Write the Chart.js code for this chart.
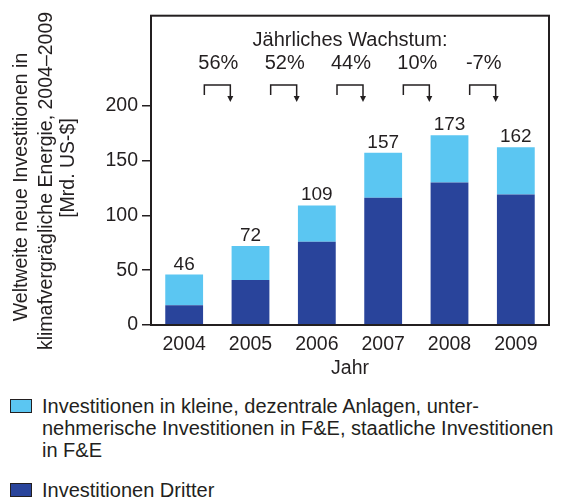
<!DOCTYPE html>
<html lang="de">
<head>
<meta charset="utf-8">
<script src="https://cdn.jsdelivr.net/npm/chart.js@4.4.1/dist/chart.umd.min.js"></script>
<style>
    body { margin: 0; background: #fff; font-family: "Liberation Sans", Arial, sans-serif; color: #231f20; }
    #wrap { position: relative; width: 563px; height: 498px; overflow: hidden; }
    #legend { position: absolute; left: 10px; top: 395px; width: 553px; }
    .item { display: flex; align-items: flex-start; font-size: 20px; line-height: 22px; white-space: nowrap; }
    .box { flex: none; width: 20px; height: 12px; border: 1px solid #231f20; margin: 4px 10px 0 0; }
</style>
</head>
<body>
<div id="wrap">
    <canvas id="chart" width="563" height="385"></canvas>
    <div id="legend"></div>
</div>
<script>
const years = ['2004', '2005', '2006', '2007', '2008', '2009'];
// Investitionen Dritter (dark, bottom of the stack)
const thirdParty = [18, 41, 76, 116, 130, 119];
// small plants, corporate and public R&D (light, top of the stack)
const smallAndRnd = [28, 31, 33, 41, 43, 43];
const growth = ['56%', '52%', '44%', '10%', '-7%'];
const yTicks = [0, 50, 100, 150, 200];
const yTitle = ['Weltweite neue Investitionen in', 'klimafvergrägliche Energie, 2004–2009', '[Mrd. US-$]'];
const legendLines = [
    ['Investitionen in kleine, dezentrale Anlagen, unter-', 'nehmerische Investitionen in F&E, staatliche Investitionen', 'in F&E'],
    ['Investitionen Dritter']
];

const LIGHT = '#5bc6f2';
const DARK = '#29449b';
const INK = '#231f20';
const FONT = '"Liberation Sans", Arial, sans-serif';

// texts drawn on top of the chart: totals, growth brackets, axis title, frame
const extras = {
    id: 'extras',
    afterDraw(chart) {
        const ctx = chart.ctx;
        const x = chart.scales.x;
        const area = chart.chartArea;
        ctx.save();
        ctx.fillStyle = INK;
        ctx.strokeStyle = INK;

        // frame around the plot
        ctx.lineWidth = 2;
        ctx.strokeRect(area.left, area.top, area.right - area.left, area.bottom - area.top);

        // totals above each stack
        ctx.font = '19px ' + FONT;
        ctx.textAlign = 'center';
        ctx.textBaseline = 'alphabetic';
        const top = chart.getDatasetMeta(1);
        top.data.forEach((bar, i) => {
            const total = thirdParty[i] + smallAndRnd[i];
            ctx.fillText(String(total), bar.x, bar.y - 5);
        });

        // growth header and brackets
        ctx.font = '20px ' + FONT;
        ctx.textBaseline = 'middle';
        ctx.fillText('Jährliches Wachstum:', (area.left + area.right) / 2, 40);
        ctx.lineWidth = 1.5;
        growth.forEach((g, i) => {
            const mid = (x.getPixelForValue(i) + x.getPixelForValue(i + 1)) / 2;
            ctx.fillText(g, mid + 1, 63);
            const l = mid - 13, r = mid + 13;
            ctx.beginPath();
            ctx.moveTo(l, 95);
            ctx.lineTo(l, 85);
            ctx.lineTo(r, 85);
            ctx.lineTo(r, 97);
            ctx.stroke();
            ctx.beginPath();
            ctx.moveTo(r - 3, 96);
            ctx.lineTo(r + 3, 96);
            ctx.lineTo(r, 102);
            ctx.closePath();
            ctx.fill();
        });

        // rotated y title
        ctx.font = '19.5px ' + FONT;
        const cols = [[22, 187], [47, 181], [69, 168]];
        yTitle.forEach((line, i) => {
            ctx.save();
            ctx.translate(cols[i][0], cols[i][1]);
            ctx.rotate(-Math.PI / 2);
            ctx.fillText(line, 0, 0);
            ctx.restore();
        });
        ctx.restore();
    }
};

const chart = new Chart(document.getElementById('chart'), {
    type: 'bar',
    data: {
        labels: years,
        datasets: [
            { label: 'Investitionen Dritter', data: thirdParty, backgroundColor: DARK },
            { label: 'Investitionen in kleine, dezentrale Anlagen, unternehmerische Investitionen in F&E, staatliche Investitionen in F&E', data: smallAndRnd, backgroundColor: LIGHT }
        ]
    },
    options: {
        responsive: false,
        animation: false,
        layout: { padding: { top: 15, right: 14, left: 0, bottom: 0 } },
        datasets: { bar: { categoryPercentage: 1, barPercentage: 0.57 } },
        plugins: { legend: { display: false }, tooltip: { enabled: false } },
        scales: {
            x: {
                stacked: true,
                grid: { display: false, drawTicks: false },
                border: { display: false },
                ticks: { color: INK, font: { family: FONT, size: 19.5 }, padding: 8 },
                title: { display: true, text: 'Jahr', color: INK, font: { family: FONT, size: 19.5 }, padding: { top: 0, bottom: 5 } },
                afterFit(s) { s.height = 60; }
            },
            y: {
                stacked: true,
                min: 0,
                max: 282,
                border: { display: false },
                grid: { drawOnChartArea: false, drawTicks: true, tickLength: 9, color: INK, lineWidth: 1.5 },
                ticks: { color: INK, font: { family: FONT, size: 19.5 }, padding: 4, stepSize: 50 },
                afterBuildTicks(s) { s.ticks = yTicks.map(v => ({ value: v })); },
                afterFit(s) { s.width = 151; }
            }
        }
    },
    plugins: [extras]
});

// legend built from the dataset colours
const legend = document.getElementById('legend');
[LIGHT, DARK].forEach((color, i) => {
    const item = document.createElement('div');
    item.className = 'item';
    if (i === 1) item.style.marginTop = '18px';
    const box = document.createElement('span');
    box.className = 'box';
    box.style.background = color;
    const text = document.createElement('span');
    text.innerHTML = legendLines[i].map(t => t.replace(/&/g, '&amp;')).join('<br>');
    item.appendChild(box);
    item.appendChild(text);
    legend.appendChild(item);
});
</script>
</body>
</html>
